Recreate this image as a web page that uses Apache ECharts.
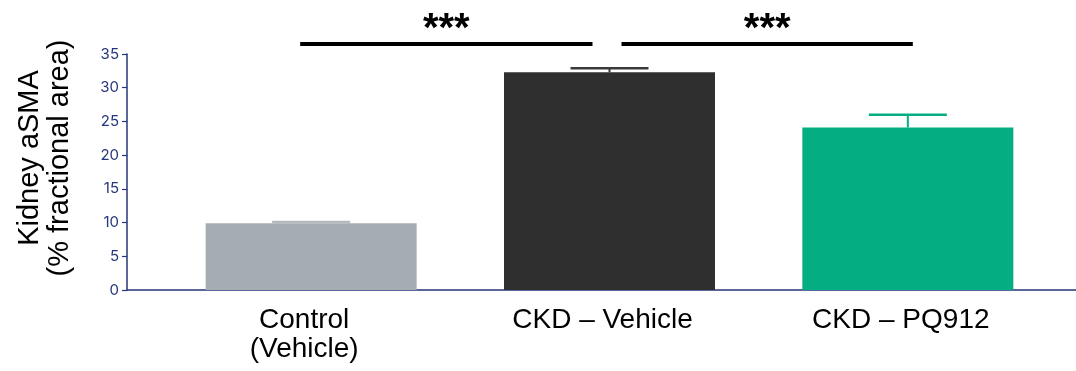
<!DOCTYPE html>
<html>
<head>
<meta charset="utf-8">
<script src="https://cdn.jsdelivr.net/npm/echarts@6/dist/echarts.min.js"></script>
<style>html,body{margin:0;padding:0;background:#fff;}#c{width:1076px;height:371px;}</style>
</head>
<body>
<div id="c"></div>
<script>
// ---- data ----
const categories = ['Control\n(Vehicle)', 'CKD \u2013 Vehicle', 'CKD \u2013 PQ912'];
const meanValues = [9.9, 32.3, 24.1];
const errorValues = [0.2, 0.6, 1.9];
const barColors = ['#a5adb2', '#2f2f2f', '#05ae82'];
const capColors = ['#b3b9bd', '#3a3a3a', '#05ae82'];
const yTicks = { min: 0, max: 35, interval: 5 };
const sigPairs = [[0, 1], [1, 2]];
const sigLabels = ['***', '***'];
const sigLevel = 36.5;

const chart = echarts.init(document.getElementById('c'), null, { renderer: 'canvas' });
const navy = '#26367a';
const font = '"Liberation Sans", Arial, sans-serif';

const option = {
  animation: false,
  backgroundColor: '#fff',
  grid: [
    { left: 127, right: 0, top: 54, bottom: 81 },
    { left: 162, right: 19, top: 54, bottom: 81 }
  ],
  xAxis: [
    { gridIndex: 0, type: 'value', min: 0, max: 1,
      axisLine: { show: true, lineStyle: { color: navy, width: 1.5 } },
      axisTick: { show: false }, axisLabel: { show: false }, splitLine: { show: false } },
    { gridIndex: 1, type: 'category', data: categories,
      axisLine: { show: false }, axisTick: { show: false }, splitLine: { show: false },
      axisLabel: { color: '#000', fontFamily: font, fontSize: 28, lineHeight: 29, margin: 16,
        padding: [0, 14, 0, 0] } }
  ],
  yAxis: [
    { gridIndex: 0, type: 'value', min: yTicks.min, max: yTicks.max, interval: yTicks.interval,
      axisLine: { show: true, lineStyle: { color: navy, width: 1.5 } },
      axisTick: { show: true, length: 5, lineStyle: { color: navy, width: 1.2 } },
      axisLabel: { color: navy, fontFamily: 'Inter, Roboto, sans-serif', fontSize: 15, margin: 8 },
      splitLine: { show: false },
      name: 'Kidney aSMA\n(% fractional area)', nameLocation: 'middle', nameGap: 52,
      nameTextStyle: { color: '#000', fontFamily: font, fontSize: 29, lineHeight: 30, padding: [0, 0, 0, 28] } },
    { gridIndex: 1, type: 'value', min: yTicks.min, max: yTicks.max, interval: yTicks.interval, show: false }
  ],
  series: [
    { type: 'bar', xAxisIndex: 1, yAxisIndex: 1, barWidth: 211,
      data: meanValues.map((v, i) => ({ value: v, itemStyle: { color: barColors[i] } })) },
    { type: 'custom', xAxisIndex: 1, yAxisIndex: 1, z: 3,
      data: meanValues.map((v, i) => [i, v, errorValues[i]]),
      renderItem: function (params, api) {
        const i = api.value(0);
        const base = api.coord([i, api.value(1)]);
        const top = api.coord([i, api.value(1) + api.value(2)]);
        const hw = 39;
        const c = capColors[params.dataIndex];
        return { type: 'group', children: [
          { type: 'line', shape: { x1: base[0], y1: base[1], x2: top[0], y2: top[1] }, style: { stroke: c, lineWidth: 2 } },
          { type: 'line', shape: { x1: top[0] - hw, y1: top[1], x2: top[0] + hw, y2: top[1] }, style: { stroke: c, lineWidth: 2.5 } }
        ] };
      } }
  ]
};
chart.setOption(option);

// significance brackets positioned from the axes
const offsets = [[-11, -17], [12, 5]];
const graphics = [];
sigPairs.forEach((p, k) => {
  const a = chart.convertToPixel({ xAxisIndex: 1, yAxisIndex: 1 }, [p[0], sigLevel]);
  const b = chart.convertToPixel({ xAxisIndex: 1, yAxisIndex: 1 }, [p[1], sigLevel]);
  const x1 = a[0] + offsets[k][0], x2 = b[0] + offsets[k][1];
  graphics.push({ type: 'line', shape: { x1: x1, y1: a[1], x2: x2, y2: a[1] }, style: { stroke: '#000', lineWidth: 4 } });
  graphics.push({ type: 'text', x: (x1 + x2) / 2, y: a[1] - 14, style: { text: sigLabels[k], font: 'bold 40px ' + font, fill: '#000', align: 'center', verticalAlign: 'middle' } });
});
chart.setOption({ graphic: graphics });
</script>
</body>
</html>
